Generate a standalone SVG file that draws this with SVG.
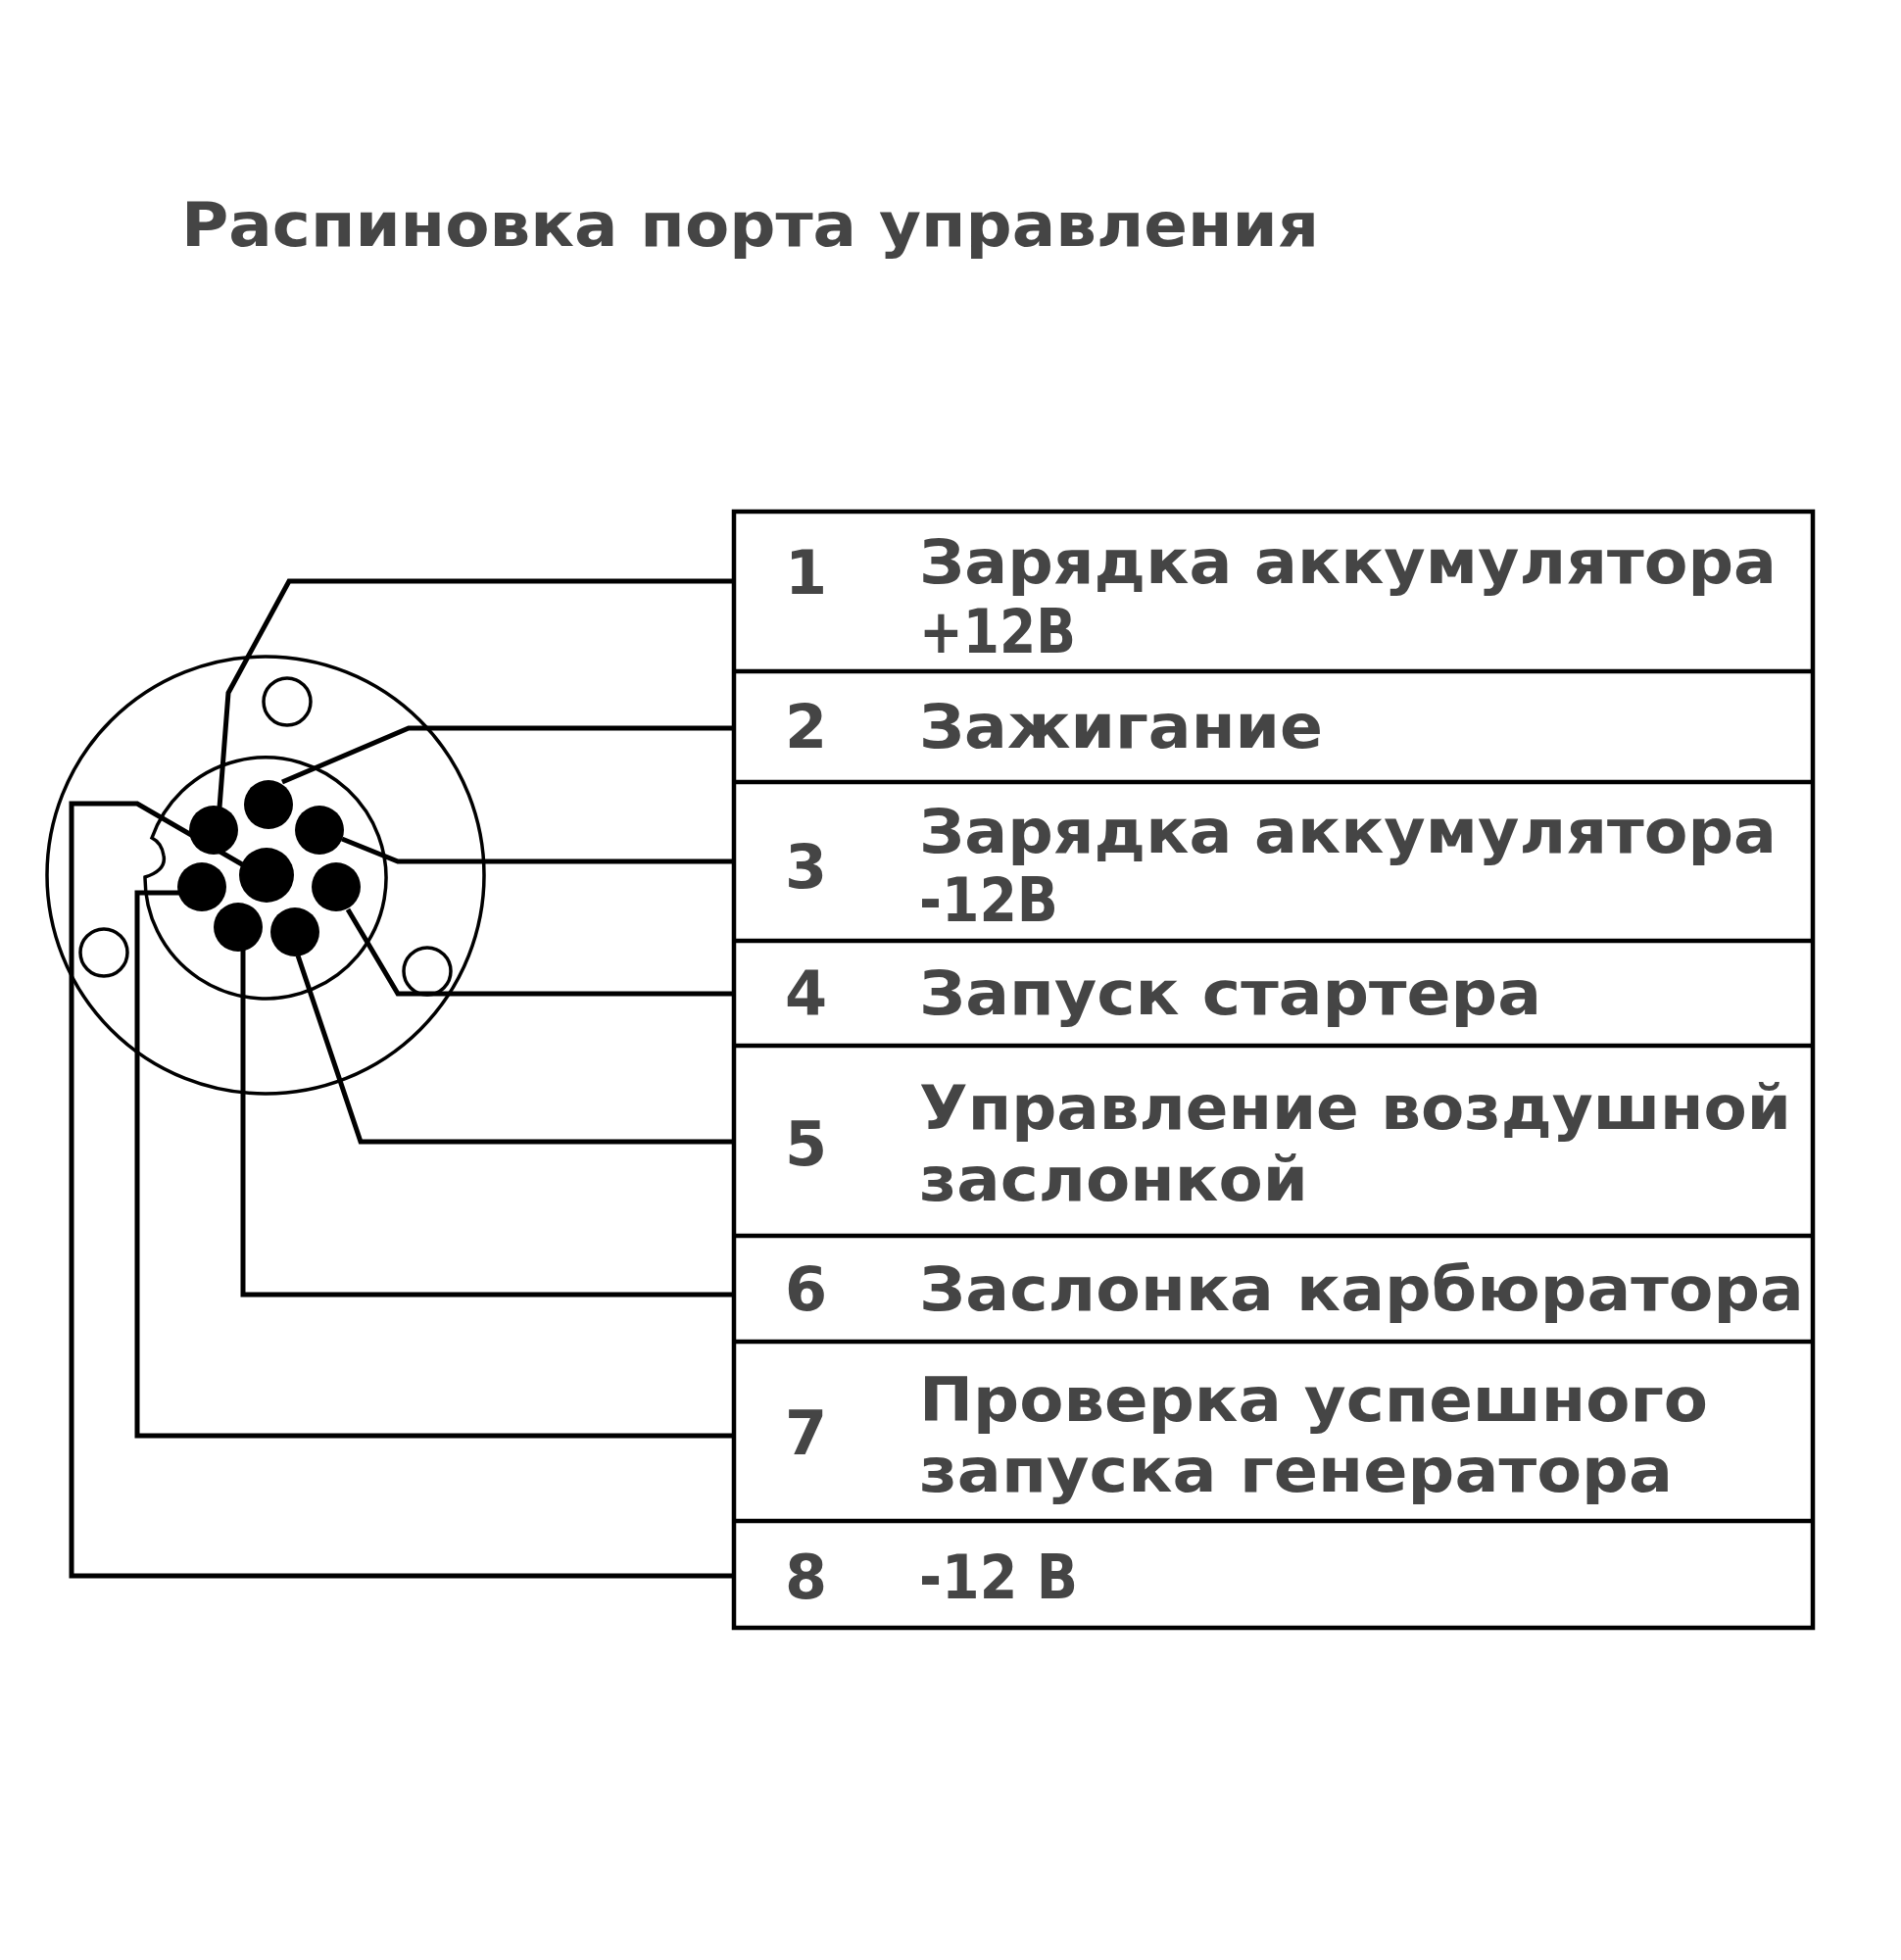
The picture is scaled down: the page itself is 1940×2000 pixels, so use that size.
<svg xmlns="http://www.w3.org/2000/svg" width="1940" height="2000" viewBox="0 0 1940 2000">
<style>
.t{font-family:"DejaVu Sans","Noto Sans",sans-serif;font-weight:bold;fill:#454545;font-size:62px}
.w{fill:none;stroke:#000;stroke-width:5;stroke-linejoin:miter}
.c{fill:none;stroke:#000;stroke-width:3.5}
.p{fill:#000}
.r{fill:none;stroke:#000;stroke-width:4.5}
</style>
<rect width="1940" height="2000" fill="#fff"/>
<text id="title" class="t" x="185" y="251" font-size="68" textLength="1161" lengthAdjust="spacingAndGlyphs">Распиновка порта управления</text>
<g id="connector">
<circle class="c" cx="271" cy="893" r="223"/>
<path class="c" d="M155 855 A123 123 0 1 1 148 895 Q170 888 167 873 Q165 860 155 855 Z"/>
<circle class="c" cx="293" cy="716" r="24"/>
<circle class="c" cx="106" cy="972" r="24"/>
<circle class="c" cx="436" cy="991" r="24"/>
<circle class="p" cx="272" cy="893" r="28"/>
<circle class="p" cx="274" cy="821" r="25"/>
<circle class="p" cx="218" cy="847" r="25"/>
<circle class="p" cx="326" cy="847" r="25"/>
<circle class="p" cx="206" cy="905" r="25"/>
<circle class="p" cx="343" cy="905" r="25"/>
<circle class="p" cx="243" cy="946" r="25"/>
<circle class="p" cx="301" cy="951" r="25"/>
</g>
<g id="wires">
<polyline class="w" points="224,824 233,707 295,593 749,593"/>
<polyline class="w" points="288,798 417,743 749,743"/>
<polyline class="w" points="349,856 406,879 749,879"/>
<polyline class="w" points="355,928 406,1014 749,1014"/>
<polyline class="w" points="304,975 368,1165 749,1165"/>
<polyline class="w" points="248,969 248,1321 749,1321"/>
<polyline class="w" points="184,911 140,911 140,1465 749,1465"/>
<polyline class="w" points="247,882 140,820 73,820 73,1608 749,1608"/>
</g>
<g id="table">
<rect class="r" x="749" y="522" width="1101" height="1139"/>
<path class="r" d="M749 685H1850M749 798H1850M749 960H1850M749 1067H1850M749 1261H1850M749 1369H1850M749 1552H1850"/>
</g>
<g id="row1"><text class="t" x="801" y="606">1</text><text class="t" x="938" y="595" textLength="875" lengthAdjust="spacingAndGlyphs">Зарядка аккумулятора</text><text class="t" x="938" y="666" textLength="160" lengthAdjust="spacingAndGlyphs">+12В</text></g>
<g id="row2"><text class="t" x="801" y="763">2</text><text class="t" x="938" y="763" textLength="412" lengthAdjust="spacingAndGlyphs">Зажигание</text></g>
<g id="row3"><text class="t" x="801" y="906">3</text><text class="t" x="938" y="870" textLength="875" lengthAdjust="spacingAndGlyphs">Зарядка аккумулятора</text><text class="t" x="938" y="940" textLength="142" lengthAdjust="spacingAndGlyphs">-12В</text></g>
<g id="row4"><text class="t" x="801" y="1035">4</text><text class="t" x="938" y="1035" textLength="635" lengthAdjust="spacingAndGlyphs">Запуск стартера</text></g>
<g id="row5"><text class="t" x="801" y="1189">5</text><text class="t" x="938" y="1152" textLength="890" lengthAdjust="spacingAndGlyphs">Управление воздушной</text><text class="t" x="938" y="1225" textLength="397" lengthAdjust="spacingAndGlyphs">заслонкой</text></g>
<g id="row6"><text class="t" x="801" y="1337">6</text><text class="t" x="938" y="1337" textLength="903" lengthAdjust="spacingAndGlyphs">Заслонка карбюратора</text></g>
<g id="row7"><text class="t" x="801" y="1484">7</text><text class="t" x="938" y="1450" textLength="805" lengthAdjust="spacingAndGlyphs">Проверка успешного</text><text class="t" x="938" y="1522" textLength="769" lengthAdjust="spacingAndGlyphs">запуска генератора</text></g>
<g id="row8"><text class="t" x="801" y="1631">8</text><text class="t" x="938" y="1631" textLength="162" lengthAdjust="spacingAndGlyphs">-12 В</text></g>
</svg>
